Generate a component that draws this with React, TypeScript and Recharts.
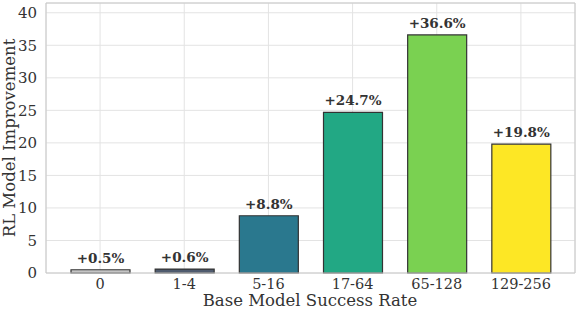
import { BarChart, Bar, XAxis, YAxis, CartesianGrid, Cell, LabelList, Label } from 'recharts'

const categories = ['0', '1-4', '5-16', '17-64', '65-128', '129-256']
const improvements = [0.5, 0.6, 8.8, 24.7, 36.6, 19.8]
const barColors = ['#c4c4c4', '#4f5b6e', '#2a788e', '#22a884', '#7ad151', '#fde725']
const yTicks = [0, 5, 10, 15, 20, 25, 30, 35, 40]

const data = categories.map((name, i) => ({ name, value: improvements[i] }))

const FONT = '"DejaVu Serif", serif'

// axis titles drawn at fixed spots to match the reference
const XTitle = () => (
    <text x={310} y={306} textAnchor="middle" fontSize={16.5} fill="#333" fontFamily={FONT}>
        Base Model Success Rate
    </text>
)
const YTitle = () => (
    <text x={15} y={138} transform="rotate(-90 15 138)" textAnchor="middle" fontSize={16.5} fill="#333" fontFamily={FONT}>
        RL Model Improvement
    </text>
)

export default function App() {
    return (
        <div style={{ position: 'absolute', left: 0, top: 0, background: '#fff' }}>
            <BarChart width={576} height={310} data={data} margin={{ top: 0, right: 0, left: 0, bottom: 0 }}>
                <CartesianGrid stroke="#e3e3e3" strokeWidth={1} />
                <XAxis
                    dataKey="name"
                    height={37}
                    padding={{ left: 12, right: 12 }}
                    tickLine={false}
                    axisLine={{ stroke: '#c8c8c8' }}
                    tick={{ fontSize: 14.5, fill: '#333', fontFamily: FONT }}
                    tickMargin={0}
                    interval={0}
                >
                    <Label content={<XTitle />} />
                </XAxis>
                <XAxis xAxisId="top" orientation="top" height={3} tick={false} tickLine={false}
                    axisLine={{ stroke: '#c8c8c8' }} />
                <YAxis
                    domain={[0, 41.5]}
                    ticks={yTicks}
                    width={46}
                    tickLine={false}
                    axisLine={{ stroke: '#c8c8c8' }}
                    tick={{ fontSize: 15, fill: '#333', fontFamily: FONT }}
                    tickMargin={3}
                >
                    <Label content={<YTitle />} />
                </YAxis>
                <YAxis yAxisId="right" orientation="right" width={1} tick={false} tickLine={false}
                    axisLine={{ stroke: '#c8c8c8' }} />
                <Bar dataKey="value" barSize={59} stroke="#333" strokeWidth={1.2} isAnimationActive={false}>
                    {data.map((d, i) => (
                        <Cell key={d.name} fill={barColors[i]} />
                    ))}
                    <LabelList
                        dataKey="value"
                        position="top"
                        offset={7}
                        formatter={(v: any) => `+${Number(v).toFixed(1)}%`}
                        style={{ fontSize: 13.5, fontWeight: 'bold', fill: '#333', fontFamily: FONT }}
                    />
                </Bar>
            </BarChart>
        </div>
    )
}
